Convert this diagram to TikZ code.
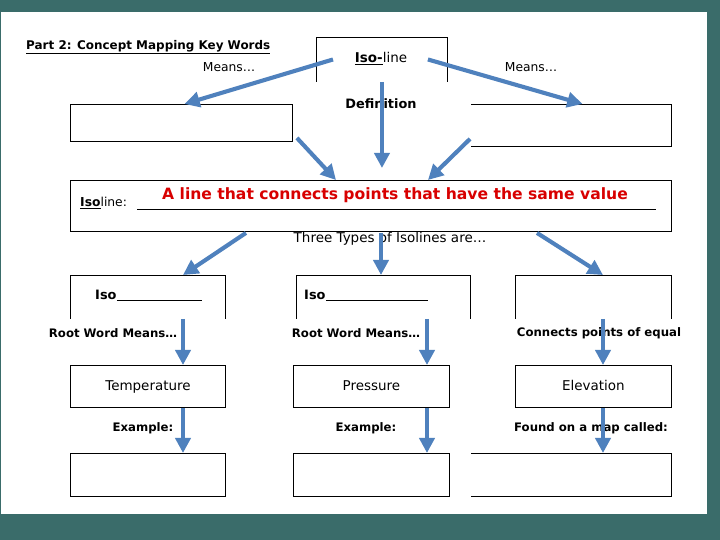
\documentclass[tikz,border=0pt]{standalone}
\usepackage{fontspec}
\setmainfont{DejaVu Sans}
\usetikzlibrary{arrows.meta,calc,positioning}
\definecolor{pagebg}{HTML}{3A6C6A}
\definecolor{arrowblue}{HTML}{4F81BD}
\definecolor{answerred}{HTML}{D80000}
\newcommand{\pxu}{0.03cm}
\newcommand{\regfont}{\fontsize{11.5}{13}\selectfont}
\newcommand{\boldfont}{\fontsize{10}{12}\selectfont\bfseries}

\begin{document}
\begin{tikzpicture}[x=0.03cm, y=-0.03cm,
    box/.style n args={2}{draw, line width=0.8pt, anchor=north west, inner sep=0pt,
        minimum width=#1*\pxu, minimum height=#2*\pxu, font=\regfont,
        text height=1.6ex, text depth=0.4ex},
    openbox/.style n args={2}{box={#1}{#2}, draw=none},
    rim/.style={line width=0.8pt},
    arr/.style={arrowblue, line width=3.5pt, -{Triangle[length=13pt,width=13pt]}},
    lbl/.style={font=\boldfont, inner sep=0pt},
    txt/.style={font=\regfont, inner sep=0pt}]

    % Page
    \fill[pagebg] (0,0) rectangle (720,540);
    \fill[white] (1,12) rectangle (707,514);

    \node[lbl, anchor=west, font=\fontsize{10.2}{12}\selectfont\bfseries] (title) at (26,47)
        {\underline{Part 2: Concept Mapping Key Words}};

    % Key word and its two meanings
    \node[openbox={131}{44}] (isobox) at (316,37) {};
    \draw[rim] (isobox.south west) -- (isobox.north west) -- (isobox.north east) -- (isobox.south east);
    \node[txt] (isoword) at (381,59) {\underline{\textbf{Iso-}}line};
    \node[txt, font=\fontsize{10.5}{12}\selectfont] (meansL) at (229,67) {Means…};
    \node[txt, font=\fontsize{10.5}{12}\selectfont] (meansR) at (531,67) {Means…};
    \node[lbl, font=\fontsize{11}{12}\selectfont\bfseries] (defn) at (381,104) {Definition};
    \node[box={222}{37}] (meanL) at (70,104) {};
    \node[openbox={200}{42}] (meanR) at (471,104) {};
    \draw[rim] (meanR.north west) -- (meanR.north east) -- (meanR.south east) -- (meanR.south west);

    % Definition
    \node[box={601}{51}] (isoline) at (70,180) {};
    \node[txt, anchor=west, font=\fontsize{10.5}{12}\selectfont] (isolbl) at (80,203) {\underline{\textbf{Iso}}line:};
    \draw[line width=0.6pt] (137,209) -- (656,209);
    \node[font=\fontsize{13.3}{15}\selectfont\bfseries, text=answerred, inner sep=0pt] (answer)
        at (395,195) {A line that connects points that have the same value};
    \node[txt] (types) at (390,239) {Three Types of Isolines are…};

    % Three types
    \node[openbox={155}{43}] (typeA) at (70,275) {};
    \node[openbox={174}{43}] (typeB) at (296,275) {};
    \node[openbox={156}{43}] (typeC) at (515,275) {};
    \foreach \n in {typeA,typeB,typeC}
        \draw[rim] (\n.south west) -- (\n.north west) -- (\n.north east) -- (\n.south east);
    \node[lbl, anchor=base west, font=\fontsize{11}{12}\selectfont\bfseries] (isoA) at (95,300) {Iso};
    \draw (isoA.base east) -- (202,300);
    \node[lbl, anchor=base west, font=\fontsize{11}{12}\selectfont\bfseries] (isoB) at (304,300) {Iso};
    \draw (isoB.base east) -- (428,300);

    \node[lbl] (rootA) at (113,333) {Root Word Means…};
    \node[lbl] (rootB) at (356,333) {Root Word Means…};
    \node[lbl] (equalC) at (599,333) {Connects points of equal};

    \node[box={155}{42}] (temp) at (70,365) {Temperature};
    \node[box={156}{42}] (press) at (293,365) {Pressure};
    \node[box={156}{42}] (elev) at (515,365) {Elevation};

    \node[lbl] (exA) at (143,428) {Example:};
    \node[lbl] (exB) at (366,428) {Example:};
    \node[lbl] (mapC) at (591,428) {Found on a map called:};

    \node[box={155}{43}] (ansA) at (70,453) {};
    \node[box={156}{43}] (ansB) at (293,453) {};
    \node[openbox={200}{43}] (ansC) at (471,453) {};
    \draw[rim] (ansC.north west) -- (ansC.north east) -- (ansC.south east) -- (ansC.south west);

    % Arrows
    \coordinate (colA) at (183,0);
    \coordinate (colB) at (427,0);
    \coordinate (colC) at (603,0);
    \coordinate (mid) at (381,0);
    \coordinate (slantA) at (246,0);
    \coordinate (slantC) at (537,0);

    \draw[arr] ($(isobox.west)+(17,0)$) -- ($(meanL.north)+(3,0)$);
    \draw[arr] ($(isobox.east)+(-20,0)$) -- ($(meanR.north)+(11,0)$);
    \draw[arr] (isobox.south) -- ($(isobox.south |- isoline.north)+(0,-12)$);
    \draw[arr] ($(meanL.south east)+(4,-4)$) -- ($(isoline.north west)+(266,0)$);
    \draw[arr] ($(meanR.south west)+(-1,-8)$) -- ($(isoline.north west)+(358,0)$);

    \draw[arr] ($(isoline.south -| slantA)+(0,1)$) -- (typeA.north -| colA);
    \draw[arr] ($(isoline.south -| mid)+(0,1)$) -- (typeB.north -| mid);
    \draw[arr] ($(isoline.south -| slantC)+(0,1)$) -- (typeC.north -| colC);

    \draw[arr] (typeA.south -| colA) -- (temp.north -| colA);
    \draw[arr] (typeB.south -| colB) -- (press.north -| colB);
    \draw[arr] (typeC.south -| colC) -- (elev.north -| colC);
    \draw[arr] (temp.south -| colA) -- (ansA.north -| colA);
    \draw[arr] (press.south -| colB) -- (ansB.north -| colB);
    \draw[arr] (elev.south -| colC) -- (ansC.north -| colC);
\end{tikzpicture}
\end{document}
